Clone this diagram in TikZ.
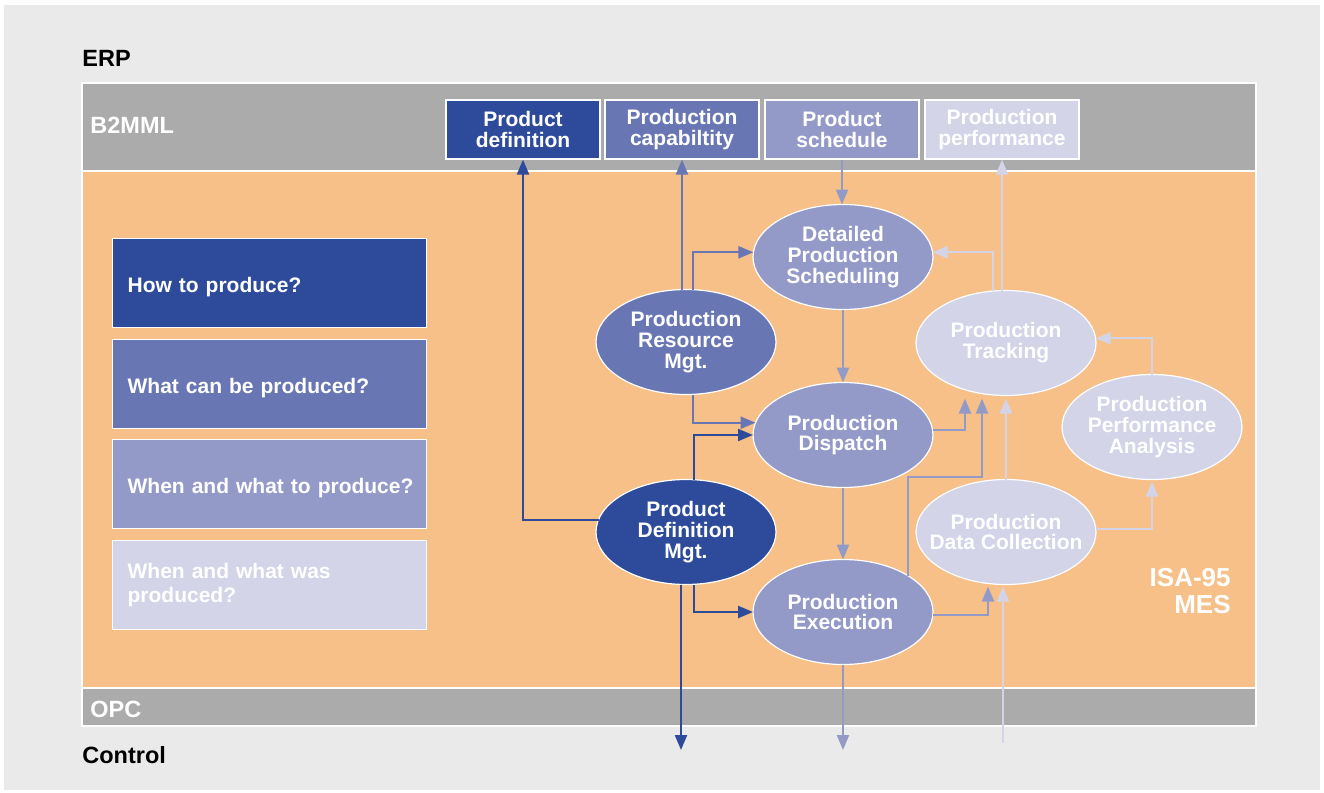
\documentclass[tikz,border=0pt]{standalone}
\usepackage{fontspec}
\setmainfont{Liberation Sans}
\usetikzlibrary{shapes.geometric,arrows.meta,calc}
\definecolor{cDark}{HTML}{2D4B9A}
\definecolor{cMed}{HTML}{6976B4}
\definecolor{cLight}{HTML}{949AC8}
\definecolor{cPale}{HTML}{D3D4E8}
\definecolor{bgGray}{HTML}{EAEAEA}
\definecolor{bandGray}{HTML}{ABABAB}
\definecolor{mesOrange}{HTML}{F6C088}
\begin{document}
\begin{tikzpicture}[x=0.5pt,y=-0.5pt,
  txt/.style={font=\bfseries\fontsize{10.5}{10.4}\selectfont},
  lbl/.style={font=\bfseries\fontsize{11.75}{12}\selectfont, inner sep=0pt},
  ell/.style={txt, ellipse, draw=white, line width=0.6pt, minimum width=90pt, minimum height=52.5pt, inner sep=-10pt, outer sep=0pt, text=white, align=center},
  topbox/.style={txt, rectangle, draw=white, line width=0.6pt, minimum width=77pt, minimum height=29.5pt, inner sep=0pt, text=white, align=center},
  leftbox/.style={txt, rectangle, draw=white, line width=0.6pt, minimum height=44.5pt, text width=142pt, inner xsep=7.5pt, inner ysep=0pt, text=white, align=left, anchor=north west},
  onebox/.style={leftbox, text height=9pt, text depth=0pt},
  arr/.style={line width=1.1pt, -{Triangle[length=7.5pt,width=6pt]}}
]
\fill[white] (0,0) rectangle (1324,793);
\fill[bgGray] (4,5) rectangle (1320,790);
\useasboundingbox (0,0) rectangle (1324,793);
% bands
\draw[white, line width=0.8pt, fill=bandGray] (82,83) rectangle (1256,171);
\draw[white, line width=0.8pt, fill=mesOrange] (82,171) rectangle (1256,688);
\draw[white, line width=0.8pt, fill=bandGray] (82,688) rectangle (1256,726);
% labels
\node[lbl, text=black, anchor=west] (erp) at (82,58) {ERP};
\node[lbl, text=black, anchor=west] (ctrl) at (82,755) {Control};
\node[lbl, text=white, anchor=west] (b2mml) at (90,125) {B2MML};
\node[lbl, text=white, anchor=west] (opc) at (90,709) {OPC};
\node[font=\bfseries\fontsize{13}{13.2}\selectfont, text=white, align=right, anchor=east, inner sep=0pt] (isa) at (1231,591) {ISA-95\\MES};
% top boxes
\node[topbox, fill=cDark] (pdef) at (523,129.5) {Product\\definition};
\node[topbox, fill=cMed] (pcap) at (682,129.5) {Production\\capabiltity};
\node[topbox, fill=cLight] (psch) at (842,129.5) {Product\\schedule};
\node[topbox, fill=cPale] (pperf) at (1002,129.5) {Production\\performance};
% left boxes
\node[onebox, fill=cDark] (q1) at (112,238) {How to produce?};
\node[onebox, fill=cMed] (q2) at (112,339) {What can be produced?};
\node[onebox, fill=cLight] (q3) at (112,439) {\mbox{When and what to produce?}};
\node[leftbox, fill=cPale, font=\bfseries\fontsize{10.5}{12}\selectfont] (q4) at (112,540) {When and what was\\produced?};
% ellipses
\node[ell, fill=cLight] (dps) at (843,257) {Detailed\\Production\\Scheduling};
\node[ell, fill=cMed] (prm) at (686,342) {Production\\Resource\\Mgt.};
\node[ell, fill=cLight] (disp) at (843,435) {Production\\Dispatch};
\node[ell, fill=cDark] (pdm) at (686,532) {Product\\Definition\\Mgt.};
\node[ell, fill=cLight] (exec) at (843,612) {Production\\Execution};
\node[ell, fill=cPale] (trk) at (1006,343) {Production\\Tracking};
\node[ell, fill=cPale] (ppa) at (1152,427) {Production\\Performance\\Analysis};
\node[ell, fill=cPale] (pdc) at (1006,532) {Production\\Data Collection};
% free ends
\coordinate (ctlA) at (681,750);
\coordinate (ctlB) at (843,750);
\coordinate (cin) at (1003,743);
\coordinate (m1) at (982,477);
% connectors: dark
\draw[arr, cDark] (pdm.172) -| (pdef.south);
\draw[arr, cDark] (pdm.south -| ctlA) -- (ctlA);
\draw[arr, cDark] ([xshift=4pt]pdm.north) |- (disp.west);
\draw[arr, cDark] ([xshift=4pt]pdm.south) |- (exec.west);
% medium
\draw[arr, cMed] (pcap.south |- prm.north) -- (pcap.south);
\draw[arr, cMed] ([xshift=3.5pt]prm.north) |- (dps.177);
\draw[arr, cMed] ([xshift=3.5pt]prm.south) |- (disp.172);
% light
\draw[arr, cLight] (psch.south) -- (psch.south |- dps.north);
\draw[arr, cLight] (dps.south) -- (disp.north);
\draw[arr, cLight] (disp.south) -- (exec.north);
\draw[arr, cLight] (exec.south) -- (ctlB);
\draw[arr, cLight] (disp.3) -| ([xshift=-20.5pt,yshift=-1.5pt]trk.south);
\draw[arr, cLight] (exec.29) |- (m1) -- ([xshift=-12pt,yshift=-1.5pt]trk.south);
\draw[arr, cLight] (exec.358) -| ([xshift=-9pt,yshift=-1pt]pdc.south);
% pale
\draw[arr, cPale] (pdc.north) -- ([yshift=-1.5pt]trk.south);
\draw[arr, cPale] (cin) -- ([xshift=-1.5pt,yshift=-1pt]pdc.south);
\draw[arr, cPale] (pdc.2) -| ([yshift=-1pt]ppa.south);
\draw[arr, cPale] (ppa.north) |- (trk.3);
\draw[arr, cPale] ([xshift=-6.5pt]trk.north) |- (dps.3);
\draw[arr, cPale] (pperf.south |- trk.north) -- (pperf.south);
\end{tikzpicture}
\end{document}
